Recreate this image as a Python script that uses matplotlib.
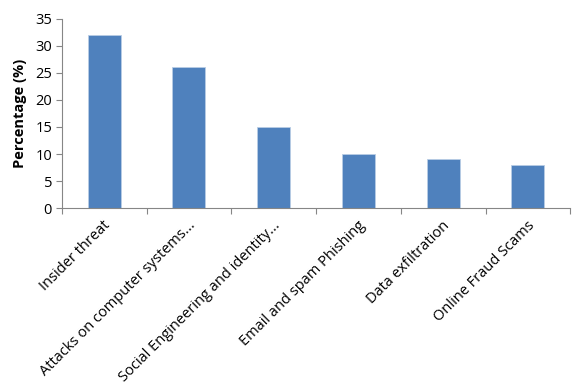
import matplotlib
matplotlib.use("Agg")
import matplotlib.pyplot as plt
import numpy as np

categories = [
    "Insider threat",
    "Attacks on computer systems...",
    "Social Engineering and identity...",
    "Email and spam Phishing",
    "Data exfiltration",
    "Online Fraud Scams",
]
values = [32, 26, 15, 10, 9, 8]

plt.rcParams["font.family"] = ["Open Sans", "DejaVu Sans"]

fig = plt.figure(figsize=(5.72, 3.84), dpi=100)
ax = fig.add_axes([0.108, 0.458, 0.889, 0.493])

x = np.arange(len(categories))
ax.bar(x, values, width=0.39, color="#4F81BD", edgecolor="#B9CDE5", linewidth=0.6)

ax.set_xlim(-0.5, len(categories) - 0.5)
ax.set_ylim(0, 35)
ax.set_yticks(range(0, 36, 5))
ax.tick_params(axis="y", labelsize=10.5, length=4, color="#868686", pad=3)

# category boundaries as tick marks, labels placed at bar centres
ax.set_xticks(np.arange(-0.5, len(categories)))
ax.set_xticklabels([])
ax.tick_params(axis="x", length=4, color="#868686")
for xi, lab in zip(x, categories):
    ax.text(xi + 0.05, -2.8, lab, rotation=45, rotation_mode="anchor",
            ha="right", va="center", fontsize=10.5)

for side in ["top", "right"]:
    ax.spines[side].set_visible(False)
for side in ["left", "bottom"]:
    ax.spines[side].set_color("#868686")

ax.set_ylabel("Percentage (%)", fontsize=10.5, fontweight="bold", labelpad=6)

fig.savefig("out.png", dpi=100)
